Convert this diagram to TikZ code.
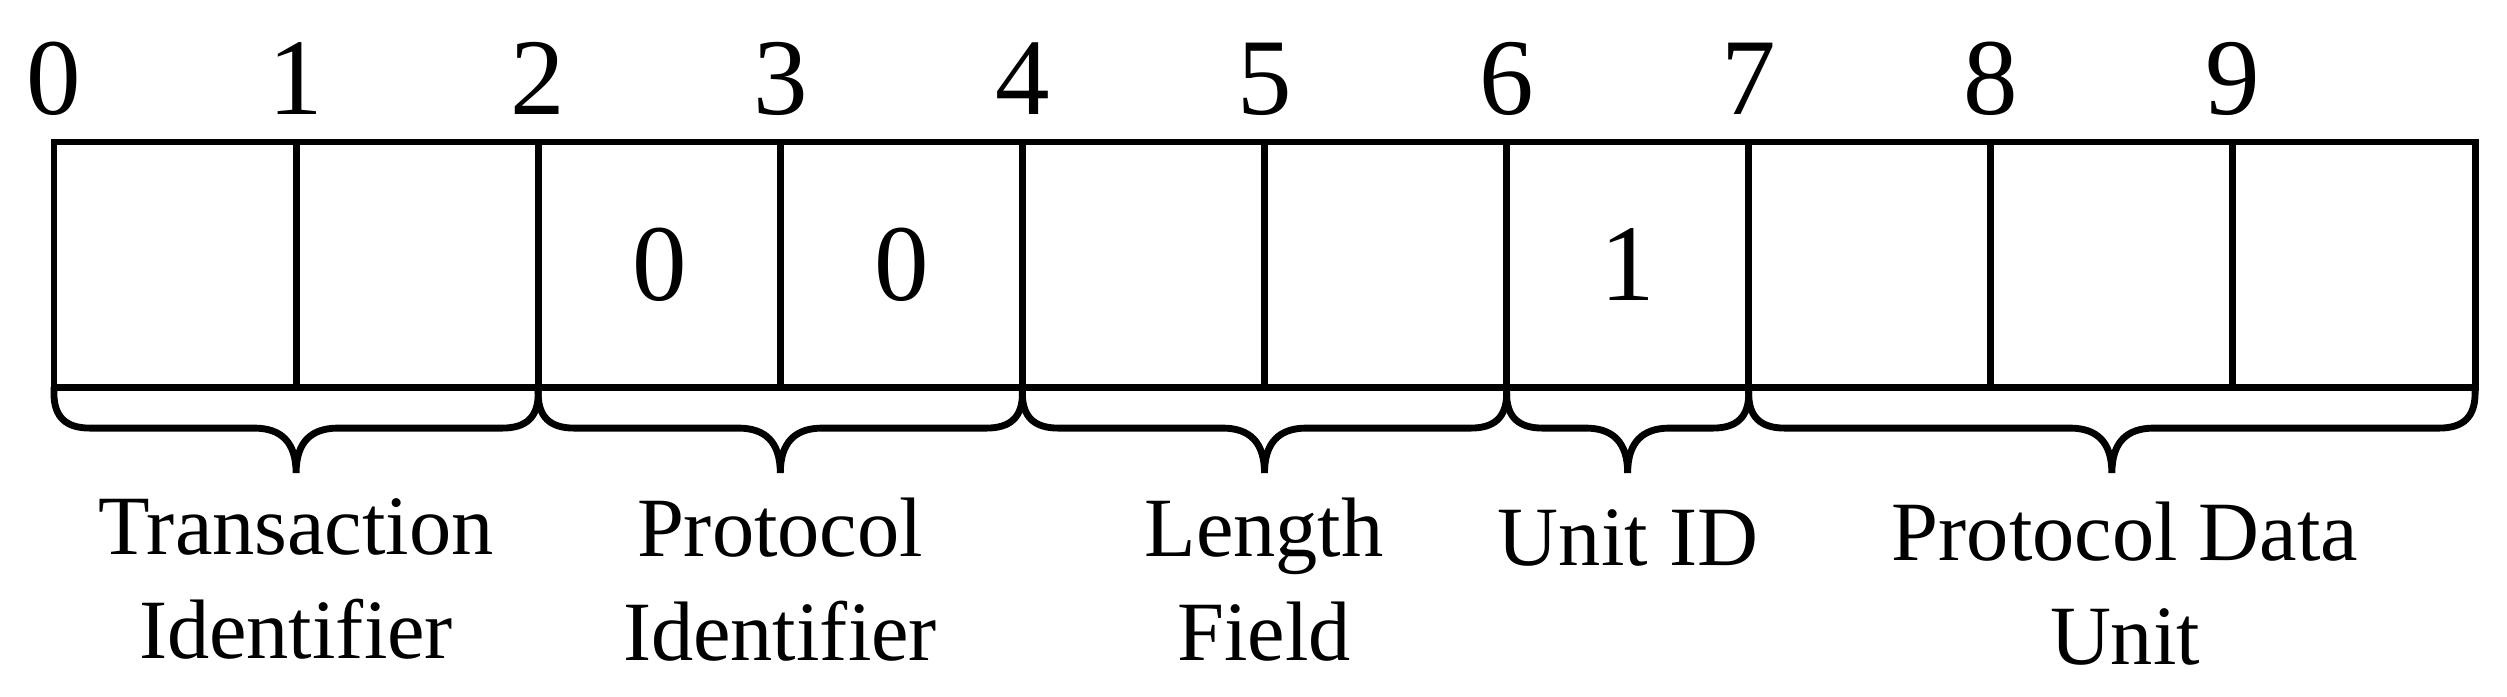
\documentclass[tikz,border=0pt]{standalone}
\usepackage{fontspec}
\setmainfont{Liberation Serif}
\usetikzlibrary{calc}
\newcommand\fieldbrace[2]{%
  \coordinate (L) at (#1.south west);
  \coordinate (R) at (#2.south east);
  \coordinate (M) at ($(L)!0.5!(R)$);
  \draw[ln] (L) -- ($(L)+(0,6)$)
    .. controls ($(L)+(0,30)$) and ($(L)+(12,41)$) .. ($(L)+(36,41)$)
    -- ($(M)+(-42,41)$)
    .. controls ($(M)+(-15,41)$) and ($(M)+(0,55)$) .. ($(M)+(0,86)$)
    .. controls ($(M)+(0,55)$) and ($(M)+(15,41)$) .. ($(M)+(42,41)$)
    -- ($(R)+(-36,41)$)
    .. controls ($(R)+(-12,41)$) and ($(R)+(0,30)$) .. ($(R)+(0,6)$)
    -- (R);
}
\begin{document}
\begin{tikzpicture}[x=0.01cm,y=-0.01cm,
  ln/.style={line width=1.95pt},
  cell/.style={draw, line width=1.95pt, minimum width=2.421cm, minimum height=2.45cm,
    inner sep=0pt, outer sep=0pt, font=\fontsize{31}{31}\selectfont},
  idx/.style={anchor=base, inner sep=0pt, font=\fontsize{31}{31}\selectfont},
  lbl/.style={anchor=base, align=center, inner sep=0pt, font=\fontsize{24}{29.3}\selectfont}]
\useasboundingbox (0,0) rectangle (2507,696);
\foreach \i/\t in {0/{},1/{},2/0,3/0,4/{},5/{},6/1,7/{},8/{},9/{}} {
  \node[cell] (c\i) at ({54+242.1*(\i+0.5)},264.5) {\t};
}
\foreach \i in {0,...,9} {
  \node[idx] (n\i) at ({54+242.1*\i},114) {\i};
}
\fieldbrace{c0}{c1}
\fieldbrace{c2}{c3}
\fieldbrace{c4}{c5}
\fieldbrace{c6}{c6}
\fieldbrace{c7}{c9}
\node[lbl] (t1) at (296,658) {Transaction\\Identifier};
\node[lbl] (t2) at (780,660) {Protocol\\Identifier};
\node[lbl] (t3) at (1264,660) {Length\\Field};
\node[lbl] (t4) at (1628,565) {Unit ID};
\node[lbl] (t5) at (2125,664) {Protocol Data\\Unit};
\end{tikzpicture}
\end{document}
